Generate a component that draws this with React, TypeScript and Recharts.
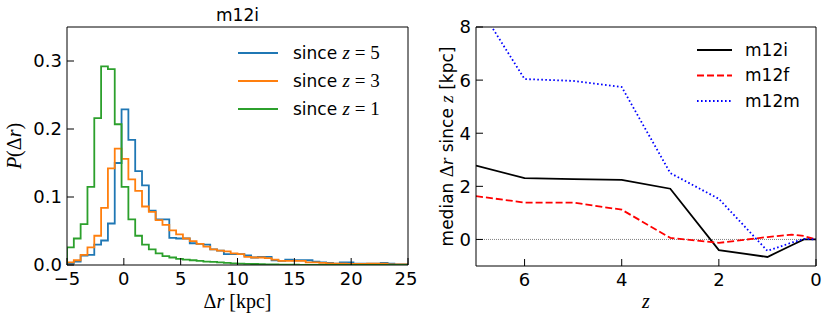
import React from "react"
import {
  LineChart,
  Line,
  XAxis,
  YAxis,
  Legend,
  ReferenceLine,
} from "recharts"

// ---- left panel: histograms of Δr (bins of 0.6 kpc from -5 to 25) ----
const BIN_START = -5
const BIN_WIDTH = 0.6

const SINCE_Z5 = [
  0.002, 0.005, 0.014, 0.015, 0.03, 0.036, 0.061, 0.15, 0.229, 0.184,
  0.138, 0.117, 0.08, 0.067, 0.067, 0.04, 0.039, 0.039, 0.032, 0.031,
  0.03, 0.023, 0.021, 0.016, 0.016, 0.016, 0.014, 0.011, 0.012, 0.012,
  0.007, 0.006, 0.008, 0.007, 0.007, 0.007, 0.005, 0.004, 0.003, 0.002,
  0.004, 0.004, 0.002, 0.002, 0.002, 0.002, 0.003, 0.002, 0.001, 0.001,
]
const SINCE_Z3 = [
  0.004, 0.007, 0.015, 0.026, 0.043, 0.084, 0.142, 0.171, 0.156, 0.126,
  0.109, 0.086, 0.078, 0.066, 0.059, 0.051, 0.045, 0.039, 0.035, 0.031,
  0.027, 0.023, 0.021, 0.02, 0.017, 0.016, 0.012, 0.011, 0.011, 0.01,
  0.008, 0.006, 0.006, 0.006, 0.006, 0.004, 0.004, 0.003, 0.0025, 0.002,
  0.002, 0.0015, 0.0015, 0.0015, 0.002, 0.002, 0.002, 0.001, 0.001, 0.001,
]
const SINCE_Z1 = [
  0.026, 0.039, 0.06, 0.115, 0.216, 0.292, 0.288, 0.207, 0.115, 0.067,
  0.043, 0.03, 0.023, 0.017, 0.013, 0.011, 0.009, 0.008, 0.007, 0.006,
  0.005, 0.0045, 0.004, 0.003, 0.0025, 0.002, 0.0018, 0.0015, 0.0012, 0.001,
  0.0008, 0.0006, 0.0005, 0.0004, 0.0003, 0.0003, 0.0002, 0.0001, 0.0001, 0.0001,
  0, 0, 0, 0, 0, 0, 0, 0, 0, 0,
]

const HIST_X_TICKS = [-5, 0, 5, 10, 15, 20, 25]
const HIST_Y_TICKS = [0, 0.1, 0.2, 0.3]

const HIST_SERIES = [
  { key: "z5", z: 5, color: "#1f77b4", values: SINCE_Z5 },
  { key: "z3", z: 3, color: "#ff7f0e", values: SINCE_Z3 },
  { key: "z1", z: 1, color: "#2ca02c", values: SINCE_Z1 },
]

// ---- right panel: median Δr since z ----
const Z_VALUES = [7, 6, 5, 4, 3, 2, 1, 0.5, 0.25, 0]
const M12I = [2.78, 2.31, 2.27, 2.24, 1.91, -0.4, -0.66, -0.22, 0.0, 0.0]
const M12F = [1.63, 1.39, 1.39, 1.12, 0.06, -0.13, 0.09, 0.18, 0.13, 0.0]
const M12M = [8.95, 6.04, 5.97, 5.74, 2.5, 1.53, -0.43, -0.12, 0.02, 0.0]

const MED_X_TICKS = [0, 2, 4, 6]
const MED_Y_TICKS = [0, 2, 4, 6, 8]

const MED_SERIES = [
  { key: "m12i", color: "#000000", dash: undefined, values: M12I },
  { key: "m12f", color: "#ff0000", dash: "7 3", values: M12F },
  { key: "m12m", color: "#0000ff", dash: "1.6 2.4", values: M12M },
]

const SANS = "'DejaVu Sans', Verdana, sans-serif"
const SERIF = "'Liberation Serif', 'DejaVu Serif', serif"
const TICK_FONT = { fontSize: 18, fill: "#000", fontFamily: SANS }
const AXIS_LINE = { stroke: "#000", strokeWidth: 1 }

const histData = (() => {
  const rows: any[] = [{ x: BIN_START, z5: 0, z3: 0, z1: 0 }]
  SINCE_Z5.forEach((_, i) => {
    const row: any = { x: +(BIN_START + i * BIN_WIDTH).toFixed(2) }
    HIST_SERIES.forEach((s) => (row[s.key] = s.values[i]))
    rows.push(row)
  })
  rows.push({ x: +(BIN_START + SINCE_Z5.length * BIN_WIDTH).toFixed(2), z5: 0, z3: 0, z1: 0 })
  return rows
})()

const medData = (values: number[]) => Z_VALUES.map((z, i) => ({ z, v: values[i] }))

const minus = (v: number) => (v < 0 ? `\u2212${Math.abs(v)}` : `${v}`)

const HistLegend = () => (
  <svg width={190} height={90} style={{ overflow: "visible" }}>
    {HIST_SERIES.map((s, i) => (
      <g key={s.key}>
        <line x1={0} x2={40} y1={10 + i * 28} y2={10 + i * 28} stroke={s.color} strokeWidth={2} />
        <text x={55} y={10 + i * 28} dy="0.35em" fontFamily={SANS} fontSize={17} fill="#000">
          since{" "}
          <tspan fontFamily={SERIF} fontStyle="italic" fontSize={19}>z</tspan>
          <tspan fontFamily={SERIF} fontSize={19}>{" = "}{s.z}</tspan>
        </text>
      </g>
    ))}
  </svg>
)

const MedLegend = () => (
  <svg width={130} height={80} style={{ overflow: "visible" }}>
    {MED_SERIES.map((s, i) => (
      <g key={s.key}>
        <line
          x1={0}
          x2={35}
          y1={8 + i * 25.5}
          y2={8 + i * 25.5}
          stroke={s.color}
          strokeWidth={1.8}
          strokeDasharray={s.dash}
        />
        <text x={48} y={8 + i * 25.5} dy="0.35em" fontFamily={SANS} fontSize={17} fill="#000">
          {s.key}
        </text>
      </g>
    ))}
  </svg>
)

function HistPanel() {
  return (
    <LineChart width={415} height={322} data={histData} margin={{ top: 26, right: 6, left: 0, bottom: 0 }}>
      <XAxis
        dataKey="x"
        type="number"
        domain={[-5, 25]}
        ticks={HIST_X_TICKS}
        allowDataOverflow
        tickFormatter={minus}
        tick={TICK_FONT}
        tickSize={-7}
        tickMargin={14}
        height={57}
        axisLine={AXIS_LINE}
        tickLine={AXIS_LINE}
        label={{
          content: ({ viewBox }: any) => (
            <text x={viewBox.x + viewBox.width / 2} y={308} textAnchor="middle" fontFamily={SERIF} fontSize={20} fill="#000">
              Δ<tspan fontStyle="italic">r</tspan> [kpc]
            </text>
          ),
        }}
      />
      <XAxis
        xAxisId="top"
        orientation="top"
        dataKey="x"
        type="number"
        domain={[-5, 25]}
        ticks={HIST_X_TICKS}
        tick={false}
        tickSize={-7}
        height={1}
        axisLine={AXIS_LINE}
        tickLine={AXIS_LINE}
        label={{
          content: ({ viewBox }: any) => (
            <text x={viewBox.x + viewBox.width / 2} y={21} textAnchor="middle" fontFamily={SANS} fontSize={17} fill="#000">
              m12i
            </text>
          ),
        }}
      />
      <YAxis
        type="number"
        domain={[0, 0.35]}
        ticks={HIST_Y_TICKS}
        allowDataOverflow
        tickFormatter={(v: number) => v.toFixed(1)}
        tick={TICK_FONT}
        tickSize={-7}
        tickMargin={12}
        width={67}
        axisLine={AXIS_LINE}
        tickLine={AXIS_LINE}
        label={{
          content: ({ viewBox }: any) => {
            const cx = 21
            const cy = viewBox.y + viewBox.height / 2
            return (
              <text x={cx} y={cy} transform={`rotate(-90 ${cx} ${cy})`} textAnchor="middle" fontFamily={SERIF} fontSize={20} fill="#000">
                <tspan fontStyle="italic">P</tspan>(Δ<tspan fontStyle="italic">r</tspan>)
              </text>
            )
          },
        }}
      />
      <YAxis
        yAxisId="right"
        orientation="right"
        type="number"
        domain={[0, 0.35]}
        ticks={HIST_Y_TICKS}
        tick={false}
        tickSize={-7}
        width={1}
        axisLine={AXIS_LINE}
        tickLine={AXIS_LINE}
      />
      <Legend
        layout="vertical"
        align="center"
        verticalAlign="middle"
        content={<HistLegend />}
        wrapperStyle={{ position: "absolute", top: 43, left: 238, width: 190, height: 90 }}
      />
      {HIST_SERIES.map((s) => (
        <Line
          key={s.key}
          type="stepAfter"
          dataKey={s.key}
          stroke={s.color}
          strokeWidth={1.8}
          dot={false}
          activeDot={false}
          isAnimationActive={false}
        />
      ))}
    </LineChart>
  )
}

function MedianPanel() {
  return (
    <LineChart width={415} height={322} margin={{ top: 26, right: 13, left: 0, bottom: 0 }}>
      <XAxis
        dataKey="z"
        type="number"
        domain={[0, 7]}
        reversed
        ticks={MED_X_TICKS}
        allowDataOverflow
        tick={TICK_FONT}
        tickSize={-7}
        tickMargin={14}
        height={56}
        axisLine={AXIS_LINE}
        tickLine={AXIS_LINE}
        label={{
          content: ({ viewBox }: any) => (
            <text x={viewBox.x + viewBox.width / 2} y={308} textAnchor="middle" fontFamily={SERIF} fontStyle="italic" fontSize={20} fill="#000">
              z
            </text>
          ),
        }}
      />
      <XAxis
        xAxisId="top"
        orientation="top"
        dataKey="z"
        type="number"
        domain={[0, 7]}
        reversed
        ticks={MED_X_TICKS}
        tick={false}
        tickSize={-7}
        height={1}
        axisLine={AXIS_LINE}
        tickLine={AXIS_LINE}
      />
      <YAxis
        type="number"
        domain={[-1, 8]}
        ticks={MED_Y_TICKS}
        allowDataOverflow
        tick={TICK_FONT}
        tickSize={-7}
        tickMargin={12}
        width={61}
        axisLine={AXIS_LINE}
        tickLine={AXIS_LINE}
        label={{
          content: ({ viewBox }: any) => {
            const cx = 38
            const cy = viewBox.y + viewBox.height / 2
            return (
              <text x={cx} y={cy} transform={`rotate(-90 ${cx} ${cy})`} textAnchor="middle" fontFamily={SANS} fontSize={17} fill="#000">
                median{" "}
                <tspan fontFamily={SERIF} fontSize={19}>Δ</tspan>
                <tspan fontFamily={SERIF} fontStyle="italic" fontSize={19}>r</tspan> since{" "}
                <tspan fontFamily={SERIF} fontStyle="italic" fontSize={19}>z</tspan> [kpc]
              </text>
            )
          },
        }}
      />
      <YAxis
        yAxisId="right"
        orientation="right"
        type="number"
        domain={[-1, 8]}
        ticks={MED_Y_TICKS}
        tick={false}
        tickSize={-7}
        width={1}
        axisLine={AXIS_LINE}
        tickLine={AXIS_LINE}
      />
      <ReferenceLine y={0} stroke="#808080" strokeWidth={1} strokeDasharray="1 1" />
      <Legend
        layout="vertical"
        align="center"
        verticalAlign="middle"
        content={<MedLegend />}
        wrapperStyle={{ position: "absolute", top: 42, left: 282, width: 130, height: 80 }}
      />
      {MED_SERIES.map((s) => (
        <Line
          key={s.key}
          data={medData(s.values)}
          type="linear"
          dataKey="v"
          name={s.key}
          stroke={s.color}
          strokeWidth={1.8}
          strokeDasharray={s.dash}
          dot={false}
          activeDot={false}
          isAnimationActive={false}
        />
      ))}
    </LineChart>
  )
}

export default function App() {
  return (
    <div style={{ position: "absolute", left: 0, top: 0, width: 830, height: 322, background: "#fff" }}>
      <style>{`.recharts-surface { overflow: visible; } .recharts-wrapper { overflow: visible; }`}</style>
      <div style={{ position: "absolute", left: 415, top: 0 }}>
        <MedianPanel />
      </div>
      <div style={{ position: "absolute", left: 0, top: 0 }}>
        <HistPanel />
      </div>
    </div>
  )
}
